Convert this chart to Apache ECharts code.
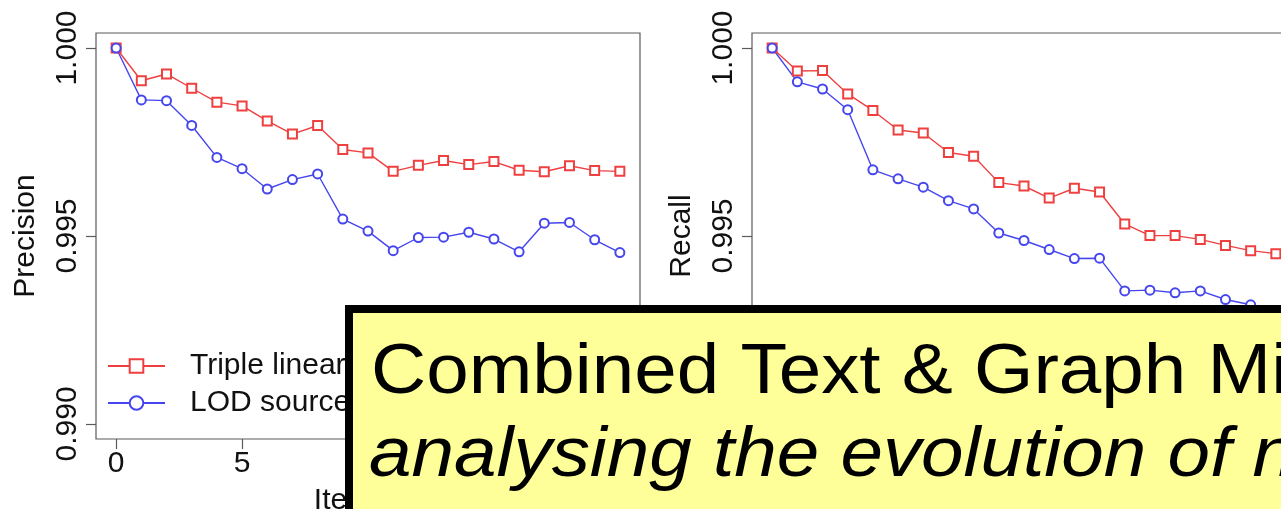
<!DOCTYPE html>
<html>
<head>
<meta charset="utf-8">
<script src="https://cdn.jsdelivr.net/npm/echarts@6/dist/echarts.min.js"></script>
<style>
  html, body { margin: 0; padding: 0; background: #ffffff; }
  #chart { width: 1281px; height: 509px; }
</style>
</head>
<body>
<div id="chart"></div>
<script>
// Iterations along the x axis
const iterations = [0, 1, 2, 3, 4, 5, 6, 7, 8, 9, 10, 11, 12, 13, 14, 15, 16, 17, 18, 19, 20];

// Precision per iteration
const precisionTriple = [1.0000, 0.99913, 0.99931, 0.99893, 0.99856, 0.99846, 0.99806, 0.99771, 0.99794, 0.99730,
  0.99721, 0.99672, 0.99688, 0.99701, 0.99690, 0.99698, 0.99675, 0.99671, 0.99687, 0.99674, 0.99672];
const precisionLod = [1.0000, 0.99862, 0.99860, 0.99794, 0.99709, 0.99679, 0.99625, 0.99650, 0.99665, 0.99545,
  0.99513, 0.99461, 0.99496, 0.99497, 0.99510, 0.99492, 0.99458, 0.99534, 0.99536, 0.99490, 0.99456];

// Recall per iteration
const recallTriple = [1.0000, 0.99939, 0.99940, 0.99878, 0.99834, 0.99782, 0.99774, 0.99722, 0.99712, 0.99642,
  0.99633, 0.99601, 0.99627, 0.99617, 0.99532, 0.99501, 0.99501, 0.99491, 0.99475, 0.99461, 0.99453];
const recallLod = [1.0000, 0.99910, 0.99891, 0.99836, 0.99676, 0.99652, 0.99630, 0.99594, 0.99572, 0.99508,
  0.99488, 0.99464, 0.99440, 0.99441, 0.99354, 0.99356, 0.99349, 0.99354, 0.99331, 0.99317, 0.99300];

const seriesNames = ['Triple linear', 'LOD source'];
const xTicks = [0, 5, 10, 15, 20];
const yTicks = [0.990, 0.995, 1.000];

const FONT = "'Liberation Sans', Arial, sans-serif";
const AXIS_GREY = '#5a5a5a';
const RED = '#ef4040';
const BLUE = '#4646ef';

const pairs = (xs, ys) => xs.map((x, i) => [x, ys[i]]);

function xAxisFor(gridIndex, name) {
  return {
    type: 'value', gridIndex: gridIndex, min: -0.8, max: 20.8,
    name: name, nameLocation: 'middle', nameGap: 47,
    nameTextStyle: { fontFamily: FONT, fontSize: 30, color: '#111' },
    axisLine: { show: false, onZero: false },
    splitLine: { show: false },
    axisTick: { show: true, customValues: xTicks, length: 10, inside: false,
      lineStyle: { color: AXIS_GREY, width: 1.2 } },
    axisLabel: { customValues: xTicks, fontFamily: FONT, fontSize: 30, color: '#111', margin: 10 }
  };
}

function yAxisFor(gridIndex, name) {
  return {
    type: 'value', gridIndex: gridIndex, min: 0.9896, max: 1.0004,
    name: name, nameLocation: 'middle', nameGap: 55, nameRotate: 90,
    nameTextStyle: { fontFamily: FONT, fontSize: 30, color: '#111' },
    axisLine: { show: false, onZero: false },
    splitLine: { show: false },
    axisTick: { show: true, customValues: yTicks, length: 10, inside: false,
      lineStyle: { color: AXIS_GREY, width: 1.2 } },
    axisLabel: { customValues: yTicks, rotate: 90, fontFamily: FONT, fontSize: 30, color: '#111', margin: 13,
      formatter: v => v.toFixed(3) }
  };
}

function lineSeries(name, color, symbol, idx, values) {
  return {
    name: name, type: 'line', xAxisIndex: idx, yAxisIndex: idx,
    data: pairs(iterations, values),
    symbol: symbol, symbolSize: 9,
    lineStyle: { color: color, width: 1.4 },
    itemStyle: { color: color, borderColor: color, borderWidth: 1.3 },
    emphasis: { disabled: true },
    animation: false
  };
}

const chart = echarts.init(document.getElementById('chart'), null, { renderer: 'canvas' });

const gridBase = { top: 33, width: 544, height: 406, show: true, borderColor: AXIS_GREY, borderWidth: 1.2,
  backgroundColor: 'transparent', containLabel: false, outerBoundsMode: 'none' };

chart.setOption({
  backgroundColor: '#ffffff',
  animation: false,
  grid: [
    Object.assign({ left: 96 }, gridBase),
    Object.assign({ left: 752 }, gridBase)
  ],
  xAxis: [xAxisFor(0, 'Iteration'), xAxisFor(1, 'Iteration')],
  yAxis: [yAxisFor(0, 'Precision'), yAxisFor(1, 'Recall')],
  legend: {
    orient: 'vertical', left: 102, top: 346,
    itemWidth: 57, itemHeight: 17, itemGap: 7,
    textStyle: { fontFamily: FONT, fontSize: 30, color: '#111', padding: [0, 0, 0, 20] },
    data: seriesNames,
    selectedMode: false
  },
  series: [
    lineSeries(seriesNames[0], RED, 'emptyRect', 0, precisionTriple),
    lineSeries(seriesNames[1], BLUE, 'emptyCircle', 0, precisionLod),
    lineSeries(seriesNames[0], RED, 'emptyRect', 1, recallTriple),
    lineSeries(seriesNames[1], BLUE, 'emptyCircle', 1, recallLod)
  ],
  graphic: [
    {
      type: 'rect', z: 100,
      shape: { x: 349, y: 309, width: 1000, height: 300 },
      style: { fill: '#ffff99', stroke: '#000000', lineWidth: 8 }
    },
    {
      type: 'text', z: 101, x: 371, y: 373, scaleX: 1.076,
      style: { text: 'Combined Text & Graph Mining', font: "71px 'Liberation Sans', Arial, sans-serif",
        fill: '#000000', textVerticalAlign: 'middle' }
    },
    {
      type: 'text', z: 101, x: 369, y: 456, scaleX: 1.076,
      style: { text: 'analysing the evolution of networks', font: "italic 71px 'Liberation Sans', Arial, sans-serif",
        fill: '#000000', textVerticalAlign: 'middle' }
    }
  ]
});
</script>
</body>
</html>
